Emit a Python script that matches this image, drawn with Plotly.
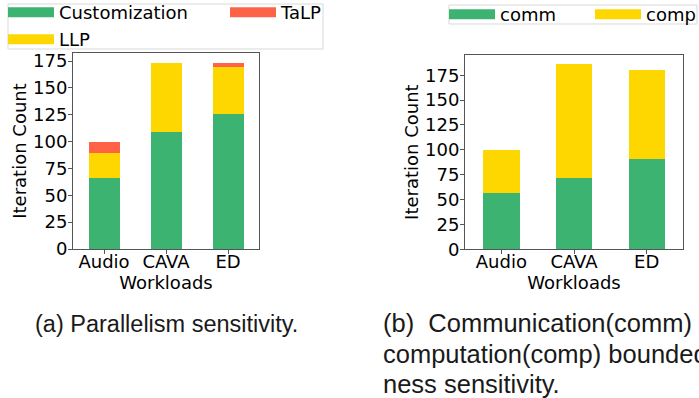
import plotly.graph_objects as go

# ---------------- data ----------------
workloads = ["Audio", "CAVA", "ED"]

# (a) parallelism sensitivity
customization = [66, 109, 126]
llp = [23, 64, 44]
talp = [11, 0, 3]

# (b) communication / computation boundedness
comm = [57, 72, 91]
comp = [43, 114, 89]

y_ticks = [0, 25, 50, 75, 100, 125, 150, 175]

caption_a = "(a) Parallelism sensitivity."
caption_b_lines = ["(b)\u00a0 Communication(comm)",
                   "computation(comp) bounded",
                   "ness sensitivity."]

GREEN = "#3CB371"
GOLD = "#FFD700"
TOMATO = "#FF6347"

W, H = 699, 398


def px_x(p):
    return p / W


def px_y(p):
    return 1 - p / H


FONT = "DejaVu Sans"

fig = go.Figure()

# stacked bars, left subplot
for name, vals, col in [("Customization", customization, GREEN),
                        ("LLP", llp, GOLD),
                        ("TaLP", talp, TOMATO)]:
    fig.add_trace(go.Bar(x=workloads, y=vals, name=name, width=0.5,
                         marker=dict(color=col, line=dict(width=0)),
                         xaxis="x", yaxis="y", showlegend=False))

# stacked bars, right subplot
for name, vals, col in [("comm", comm, GREEN), ("comp", comp, GOLD)]:
    fig.add_trace(go.Bar(x=workloads, y=vals, name=name, width=0.5,
                         marker=dict(color=col, line=dict(width=0)),
                         xaxis="x2", yaxis="y2", showlegend=False))


# legend entries (wide swatches like the original)
def legend_entry(name, col, legend, xa, ya):
    fig.add_trace(go.Scatter(x=[None], y=[None], mode="lines", name=name,
                             line=dict(color=col, width=13),
                             xaxis=xa, yaxis=ya, legend=legend,
                             hoverinfo="skip"))


legend_entry("Customization", GREEN, "legend", "x", "y")
legend_entry("TaLP", TOMATO, "legend", "x", "y")
legend_entry("LLP", GOLD, "legend3", "x", "y")
legend_entry("comm", GREEN, "legend2", "x2", "y2")
legend_entry("comp", GOLD, "legend2", "x2", "y2")

axis_common = dict(showline=True, mirror=True, linecolor="#555555", linewidth=1,
                   ticks="outside", ticklen=4, tickcolor="#555555", showgrid=False,
                   zeroline=False, tickfont=dict(family=FONT, size=18, color="black"))

legend_common = dict(orientation="h", xanchor="left", yanchor="top",
                     traceorder="normal",
                     bgcolor="rgba(0,0,0,0)", borderwidth=0, itemwidth=46,
                     entrywidthmode="pixels",
                     font=dict(family=FONT, size=18, color="black"))

title_font = dict(family=FONT, size=18, color="black")

annotations = [
    dict(text=caption_a, xref="paper", yref="paper",
         x=px_x(33), y=px_y(324), xanchor="left", yanchor="middle",
         showarrow=False, align="left",
         font=dict(family="Liberation Sans", size=23.5, color="#1a1a1a")),
]
for line, yc in zip(caption_b_lines, [323, 354, 384]):
    annotations.append(dict(text=line, xref="paper", yref="paper",
                            x=px_x(381), y=px_y(yc), xanchor="left",
                            yanchor="middle", showarrow=False, align="left",
                            font=dict(family="Liberation Sans", size=25.5,
                                      color="#1a1a1a")))

fig.update_layout(
    width=W, height=H,
    margin=dict(l=0, r=0, t=0, b=0, autoexpand=False),
    paper_bgcolor="white", plot_bgcolor="white",
    barmode="stack", bargap=0,
    font=dict(family=FONT, size=18, color="black"),
    xaxis=dict(domain=[px_x(73), px_x(259)], anchor="y", range=[-0.5, 2.5],
               ticklabelstandoff=-8,
               title=dict(text="Workloads", standoff=4, font=title_font),
               **axis_common),
    yaxis=dict(domain=[px_y(249), px_y(53)], anchor="x", range=[0, 182.6],
               tickvals=y_ticks, ticklabelstandoff=-3,
               title=dict(text="Iteration Count", standoff=1, font=title_font),
               **axis_common),
    xaxis2=dict(domain=[px_x(465), px_x(683)], anchor="y2", range=[-0.5, 2.5],
                ticklabelstandoff=-8,
                title=dict(text="Workloads", standoff=4, font=title_font),
                **axis_common),
    yaxis2=dict(domain=[px_y(249.3), px_y(55)], anchor="x2", range=[0, 195.3],
                tickvals=y_ticks, ticklabelstandoff=-3,
                title=dict(text="Iteration Count", standoff=1, font=title_font),
                **axis_common),
    legend=dict(x=px_x(3), y=px_y(-6), entrywidth=161, **legend_common),
    legend3=dict(x=px_x(3), y=px_y(21), entrywidth=161, **legend_common),
    legend2=dict(x=px_x(444), y=px_y(-4), entrywidth=85, **legend_common),
    shapes=[
        dict(type="rect", xref="paper", yref="paper",
             x0=px_x(8), x1=px_x(323), y0=px_y(49), y1=px_y(4),
             line=dict(color="#d9d9d9", width=1), fillcolor="white", layer="below"),
        dict(type="rect", xref="paper", yref="paper",
             x0=px_x(449), x1=px_x(697), y0=px_y(24), y1=px_y(5),
             line=dict(color="#d9d9d9", width=1), fillcolor="white", layer="below"),
    ],
    annotations=annotations,
)

fig.write_html("out.html",
               config={"displayModeBar": False},
               post_script="document.body.style.margin='0px';")
